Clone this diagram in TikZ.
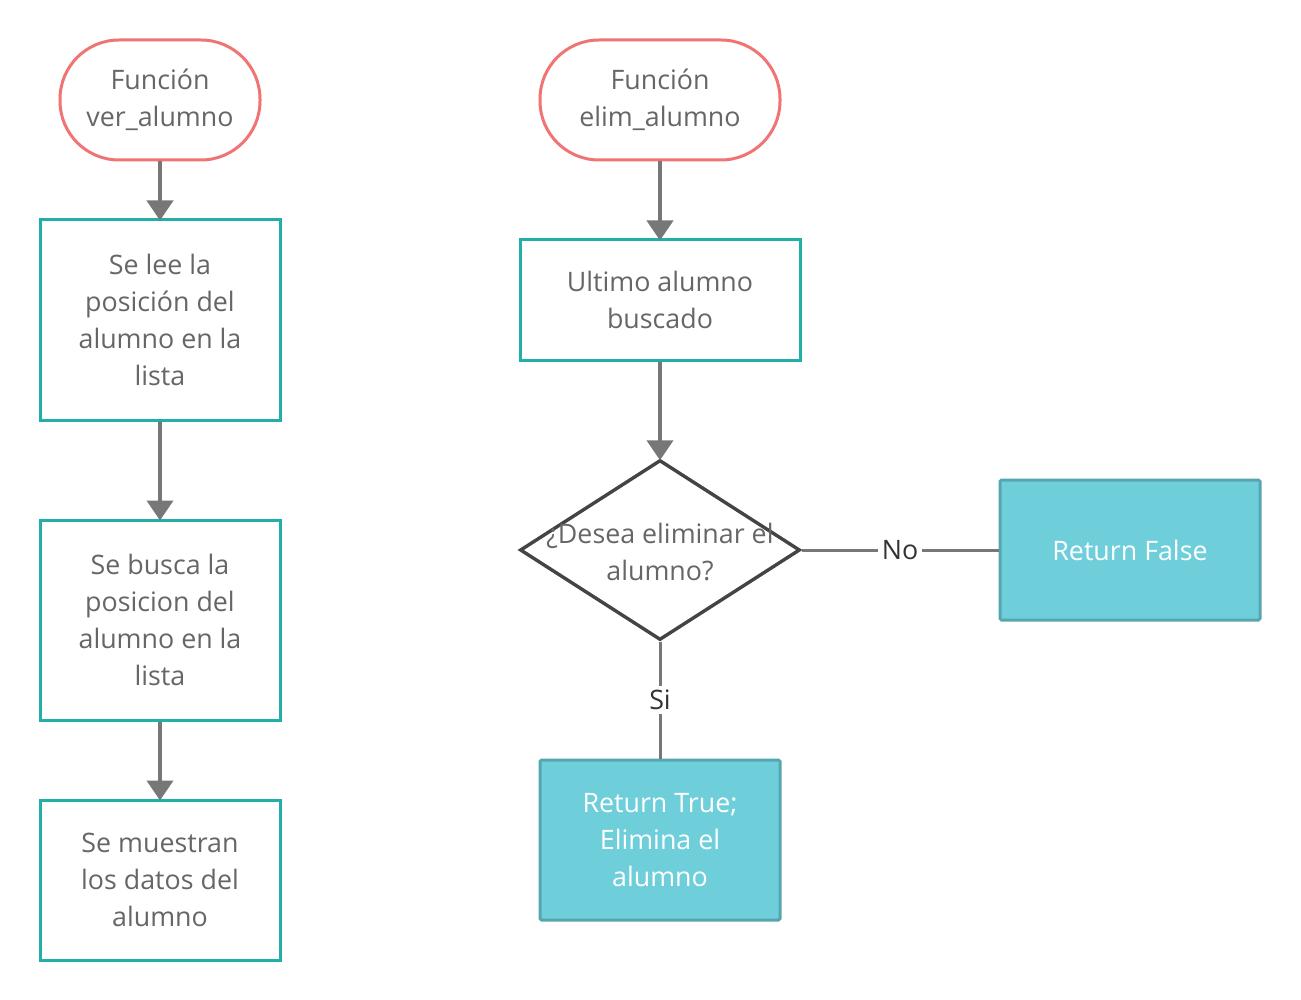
\documentclass[tikz,border=0pt]{standalone}
\usepackage{fontspec}
\setmainfont{Open Sans}
\usetikzlibrary{arrows.meta,shapes.geometric}
\definecolor{termred}{HTML}{F07474}
\definecolor{tealline}{HTML}{22AEA9}
\definecolor{fillteal}{HTML}{6ECFDB}
\definecolor{fillline}{HTML}{56A6AF}
\definecolor{txtgray}{HTML}{666666}
\definecolor{arrgray}{HTML}{777777}
\definecolor{diagray}{HTML}{444444}
\definecolor{lblgray}{HTML}{333333}
\begin{document}
\begin{tikzpicture}[x=1pt,y=-1pt,
  every node/.style={font=\fontsize{26.8}{37}\selectfont, align=center, inner sep=0pt},
  term/.style={draw=termred, line width=3pt, fill=white, rounded corners=59pt, text=txtgray},
  procbox/.style={draw=tealline, line width=3pt, fill=white, text=txtgray},
  retbox/.style={draw=fillline, line width=3pt, fill=fillteal, text=white, rounded corners=1.5pt},
  decision/.style={draw=diagray, line width=3.4pt, diamond, fill=white},
  flow/.style={draw=arrgray, line width=4pt, shorten >=-2pt, -{Triangle[width=26pt,length=20pt]}},
  branch/.style={draw=arrgray, line width=3pt},
  lbl/.style={fill=white, text=lblgray, inner sep=4pt}
]
\useasboundingbox (0,0) rectangle (1301,1000);
% left column
\node[term, minimum width=200pt, minimum height=120pt] (t1) at (160,100) {Función\\ver\_alumno};
\node[procbox, minimum width=240pt, minimum height=200pt] (a) at (160,320) {Se lee la\\posición del\\alumno en la\\lista};
\node[procbox, minimum width=240pt, minimum height=200pt] (b) at (160,620) {Se busca la\\posicion del\\alumno en la\\lista};
\node[procbox, minimum width=240pt, minimum height=160pt] (c) at (160,880) {Se muestran\\los datos del\\alumno};
% right column
\node[term, minimum width=240pt, minimum height=120pt] (t2) at (660,100) {Función\\elim\_alumno};
\node[procbox, minimum width=280pt, minimum height=120pt] (d) at (660,300) {Ultimo alumno\\buscado};
\node[decision, minimum width=280pt, minimum height=180pt] (q) at (660,550) {};
\node[text=txtgray] (qt) at (660,552) {¿Desea eliminar el\\alumno?};
\node[retbox, minimum width=260pt, minimum height=140pt] (rf) at (1130,550) {Return False};
\node[retbox, minimum width=240pt, minimum height=160pt] (rt) at (660,840) {Return True;\\Elimina el\\alumno};
% connectors
\draw[flow] (t1) -- (a);
\draw[flow] (a) -- (b);
\draw[flow] (b) -- (c);
\draw[flow] (t2) -- (d);
\draw[flow] (d) -- (q.north);
\draw[branch] (q.east) -- node[lbl] (no) {No} (rf.west);
\draw[branch] (q.south) -- node[lbl] (si) {Si} (rt.north);
\end{tikzpicture}
\end{document}
